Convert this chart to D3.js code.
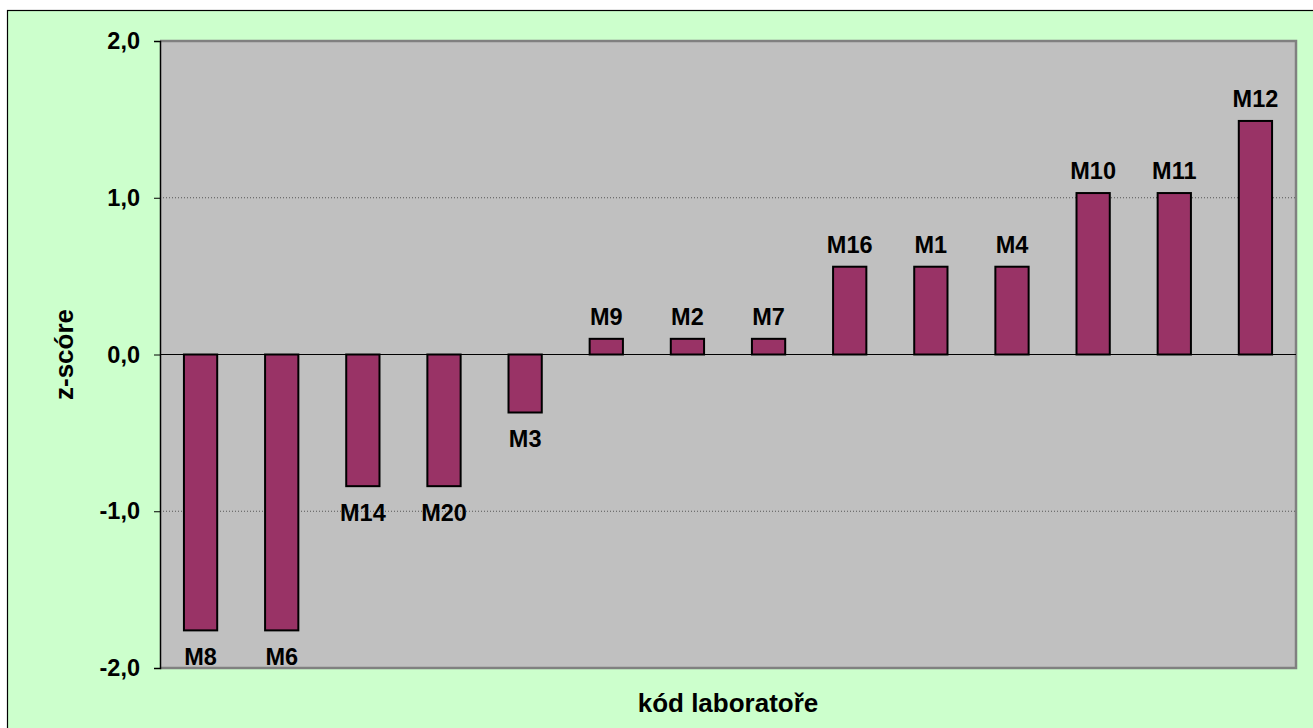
<!DOCTYPE html>
<html><head><meta charset="utf-8">
<script src="https://cdn.jsdelivr.net/npm/d3@7"></script>
<style>
html,body{margin:0;padding:0;background:#fff;}
svg{display:block;font-family:Arial,"Liberation Sans",sans-serif;}
</style></head>
<body>
<svg id="c" width="1313" height="728"></svg>
<script>
const labs = ["M8","M6","M14","M20","M3","M9","M2","M7","M16","M1","M4","M10","M11","M12"];
const zScores = [-1.76,-1.76,-0.84,-0.84,-0.37,0.10,0.10,0.10,0.56,0.56,0.56,1.03,1.03,1.49];
const yTicks = [-2,-1,0,1,2];
const yTitle = "z-scóre";
const xTitle = "kód laboratoře";

const svg = d3.select("#c");
const W=1313,H=728;
const L=160,T=41,R=1296,B=668;
const FS=23.5, TFS=26;

svg.append("rect").attr("x",7.5).attr("y",10.5).attr("width",W).attr("height",H)
  .attr("fill","#ccffcc").attr("stroke","#000").attr("stroke-width",1.2);

const x = d3.scaleBand().domain(labs).range([L,R]).paddingInner(0.59).paddingOuter(0.295);
const y = d3.scaleLinear().domain([-2,2]).range([B,T]);

// plot area
svg.append("rect").attr("x",L).attr("y",T).attr("width",R-L).attr("height",B-T)
  .attr("fill","#c0c0c0");
// gray frame
svg.append("path").attr("d",`M${L},${T}H${R}V${B}H${L}`).attr("fill","none")
  .attr("stroke","#808080").attr("stroke-width",2.5);

// gridlines
svg.append("g").selectAll("line").data(yTicks.filter(d=>d!==0 && d!==2 && d!==-2)).join("line")
  .attr("x1",L).attr("x2",R).attr("y1",d=>y(d)).attr("y2",d=>y(d))
  .attr("stroke","#555").attr("stroke-width",1).attr("stroke-dasharray","1,2");

// bars
svg.append("g").selectAll("rect").data(labs).join("rect")
  .attr("x",(d)=>x(d))
  .attr("width",x.bandwidth())
  .attr("y",(d,i)=>y(Math.max(0,zScores[i])))
  .attr("height",(d,i)=>Math.abs(y(zScores[i])-y(0)))
  .attr("fill","#993366").attr("stroke","#000").attr("stroke-width",2);

// zero line
svg.append("line").attr("x1",L).attr("x2",R).attr("y1",y(0)).attr("y2",y(0))
  .attr("stroke","#000").attr("stroke-width",1.2);

// y axis
const ya = svg.append("g").attr("transform",`translate(${L},0)`)
  .call(d3.axisLeft(y).tickValues(yTicks).tickSize(6).tickPadding(14)
  .tickFormat(d=>d3.format(".1f")(d).replace(".",",").replace("−","-")));
ya.attr("font-size",FS).attr("font-weight","bold").attr("font-family","Arial,'Liberation Sans',sans-serif");
ya.select(".domain").attr("stroke","#000").attr("stroke-width",1.5);
ya.selectAll(".tick line").attr("stroke","#000");
ya.selectAll(".tick text").attr("fill","#000");

// bar labels
svg.append("g").attr("font-size",FS).attr("font-weight","bold").selectAll("text").data(labs).join("text")
  .attr("x",d=>x(d)+x.bandwidth()/2)
  .attr("y",(d,i)=>zScores[i]>=0 ? y(zScores[i])-14 : y(zScores[i])+35)
  .attr("text-anchor","middle")
  .text(d=>d);

// titles
svg.append("text").attr("x",728).attr("y",712).attr("text-anchor","middle")
  .attr("font-size",TFS).attr("font-weight","bold").text(xTitle);
svg.append("text").attr("transform",`translate(73,${y(0)}) rotate(-90)`)
  .attr("text-anchor","middle").attr("font-size",TFS).attr("font-weight","bold").text(yTitle);
</script>
</body></html>
